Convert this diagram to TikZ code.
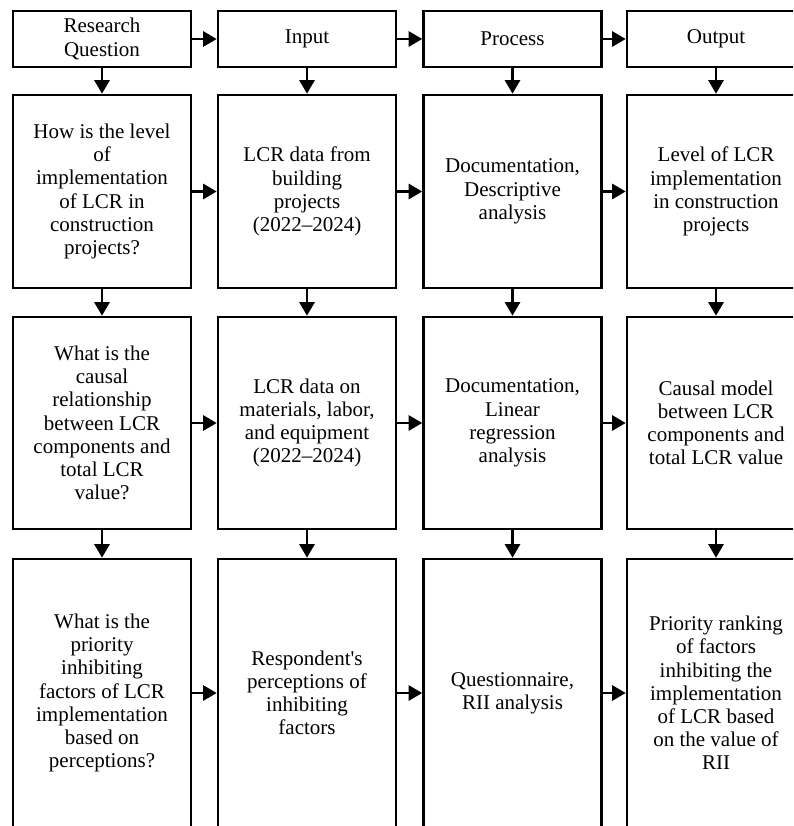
\documentclass[tikz,border=0pt]{standalone}
\usepackage{fontspec}
\setmainfont{Liberation Serif}
\usetikzlibrary{arrows.meta}
\begin{document}
\begin{tikzpicture}[x=1pt,y=-1pt,
  box/.style={draw=black, line width=2.6pt, rectangle, minimum width=178pt, align=center, font=\fontsize{21}{23.2}\selectfont, inner sep=0pt},
  arr/.style={line width=2.6pt, -{Triangle[length=13.5pt,width=15pt]}}]
\useasboundingbox (0,0) rectangle (793,826);
\clip (0,0) rectangle (793,826);
% header row
\node[box, minimum height=56pt] (h1) at (102,39) {Research\\Question};
\node[box, minimum height=56pt] (h2) at (307,39) {Input};
\node[box, minimum height=56pt] (h3) at (512.5,39) {Process};
\node[box, minimum height=56pt] (h4) at (716,39) {Output};
% row 1
\node[box, minimum height=193pt] (a1) at (102,191.5) {How is the level\\of\\implementation\\of LCR in\\construction\\projects?};
\node[box, minimum height=193pt] (a2) at (307,191.5) {LCR data from\\building\\projects\\(2022–2024)};
\node[box, minimum height=193pt] (a3) at (512.5,191.5) {Documentation,\\Descriptive\\analysis};
\node[box, minimum height=193pt] (a4) at (716,191.5) {Level of LCR\\implementation\\in construction\\projects};
% row 2
\node[box, minimum height=212pt] (b1) at (102,423) {What is the\\causal\\relationship\\between LCR\\components and\\total LCR\\value?};
\node[box, minimum height=212pt] (b2) at (307,423) {LCR data on\\materials, labor,\\and equipment\\(2022–2024)};
\node[box, minimum height=212pt] (b3) at (512.5,423) {Documentation,\\Linear\\regression\\analysis};
\node[box, minimum height=212pt] (b4) at (716,423) {Causal model\\between LCR\\components and\\total LCR value};
% row 3
\node[box, minimum height=268pt] (c1) at (102,693) {What is the\\priority\\inhibiting\\factors of LCR\\implementation\\based on\\perceptions?};
\node[box, minimum height=268pt] (c2) at (307,693) {Respondent\textquotesingle s\\perceptions of\\inhibiting\\factors};
\node[box, minimum height=268pt] (c3) at (512.5,693) {Questionnaire,\\RII analysis};
\node[box, minimum height=268pt] (c4) at (716,693) {Priority ranking\\of factors\\inhibiting the\\implementation\\of LCR based\\on the value of\\RII};
% horizontal arrows
\foreach \r in {h,a,b,c}{
  \draw[arr] (\r1.east) -- (\r2.west);
  \draw[arr] (\r2.east) -- (\r3.west);
  \draw[arr] (\r3.east) -- (\r4.west);
}
% vertical arrows
\foreach \c in {1,2,3,4}{
  \draw[arr] (h\c.south) -- (a\c.north);
  \draw[arr] (a\c.south) -- (b\c.north);
  \draw[arr] (b\c.south) -- (c\c.north);
}
\end{tikzpicture}
\end{document}
